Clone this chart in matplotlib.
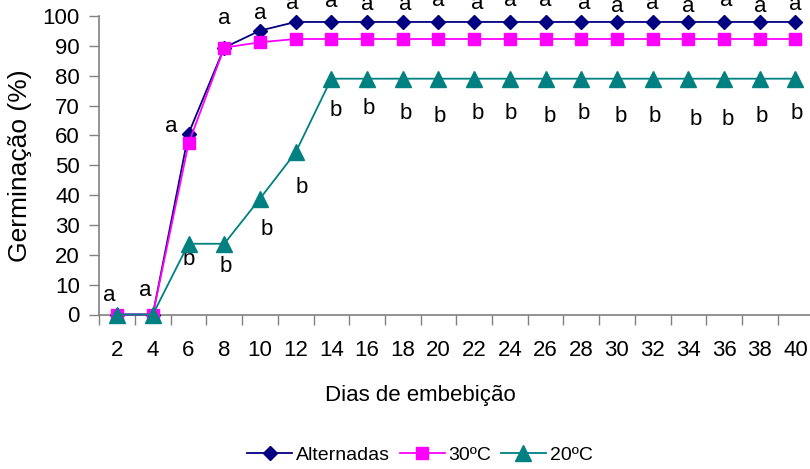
import matplotlib.pyplot as plt
import numpy as np

plt.rcParams["font.family"] = ["Liberation Sans", "DejaVu Sans"]

days = [2, 4, 6, 8, 10, 12, 14, 16, 18, 20, 22, 24, 26, 28, 30, 32, 34, 36, 38, 40]

alternadas = [0, 0, 60.6, 89.4, 95.1, 98, 98, 98, 98, 98,
              98, 98, 98, 98, 98, 98, 98, 98, 98, 98]
t30 = [0, 0, 57.3, 89.4, 91.2, 92.3, 92.3, 92.3, 92.3, 92.3,
       92.3, 92.3, 92.3, 92.3, 92.3, 92.3, 92.3, 92.3, 92.3, 92.3]
t20 = [0, 0, 23.7, 23.7, 38.8, 54.3, 79, 79, 79, 79,
       79, 79, 79, 79, 79, 79, 79, 79, 79, 79]

# significance letters (a = upper group, b = 20ºC)
letters_a = ["a"] * 20
letters_b = ["", ""] + ["b"] * 18

# where the letters sit (data units), as placed by hand in the original
a_label_y = [6.5, 8, 63, 99.2, 100.8, 104.3, 104.7, 103.7, 103.7, 105.2,
             104.2, 105.2, 105.2, 104.2, 103.1, 104.2, 103.1, 105.2, 103.1, 103.7]
a_label_dx = [-0.22, -0.2, -0.48, 0, 0, -0.1, 0, 0, 0.08, 0,
              0.1, 0, 0, 0.08, 0, 0, 0, 0.05, 0, 0]
b_label_y = [0, 0, 18.3, 16.2, 28.6, 42.5, 68.5, 69, 67.4, 66.3,
             67.4, 67.4, 66.3, 67.4, 66.3, 66.3, 65.4, 65.4, 66.3, 67.4]
b_label_dx = [0, 0, 0, 0.05, 0.18, 0.17, 0.11, 0.05, 0.08, 0.03,
              0.1, 0.03, 0.11, 0.08, 0.11, 0.05, 0.2, 0.1, 0.05, 0.03]

fig = plt.figure(figsize=(8.1, 4.69), dpi=100)
ax = fig.add_axes([99.3 / 810, 1 - 314.5 / 469, 714 / 810, (314.5 - 16) / 469])

x = np.arange(len(days))

ax.plot(x, alternadas, color="#000080", marker="D", markersize=7.5, lw=1.3,
        label="Alternadas", clip_on=False, zorder=3)
ax.plot(x, t30, color="#FF00FF", marker="s", markersize=8, lw=1.3,
        label="30ºC", clip_on=False, zorder=3)
ax.plot(x, t20, color="#008080", marker="^", markersize=11.5, lw=1.3,
        label="20ºC", clip_on=False, zorder=4)

for i in range(len(days)):
    ax.text(x[i] + a_label_dx[i], a_label_y[i], letters_a[i], ha="center", va="center",
            fontsize=16, clip_on=False)
    if letters_b[i]:
        ax.text(x[i] + b_label_dx[i], b_label_y[i], letters_b[i], ha="center", va="center",
                fontsize=16, clip_on=False)

ax.set_xlim(-0.5, len(days) - 0.5)
ax.set_ylim(0, 100)
ax.set_yticks(np.arange(0, 101, 10))
ax.set_xticks(x)
ax.set_xticklabels([str(d) for d in days])
ax.set_xticks(np.arange(-0.5, len(days), 1), minor=True)
ax.tick_params(axis="x", which="major", length=0, pad=18, labelsize=16)
ax.tick_params(axis="x", which="minor", length=7, width=1, color="#808080")
ax.tick_params(axis="y", length=7, width=1, color="#808080", pad=7, labelsize=16)

for side in ["top", "right"]:
    ax.spines[side].set_visible(False)
for side in ["left", "bottom"]:
    ax.spines[side].set_color("#808080")
    ax.spines[side].set_linewidth(1.2)

ax.set_xlabel("Dias de embebição", fontsize=16, labelpad=14)
ax.xaxis.set_label_coords((420 - 99.3) / 714, -(395 - 314.5) / 298.5)
ax.xaxis.label.set_verticalalignment("center")
ax.set_ylabel("Germinação (%)", fontsize=19)
ax.yaxis.set_label_coords(-(99.3 - 20) / 714, 0.5)
ax.yaxis.label.set_verticalalignment("center")

fig.legend(loc="center", bbox_to_anchor=(420 / 810, 1 - 455 / 469), ncol=3,
           frameon=False, fontsize=14, handlelength=2.3, handletextpad=0.2,
           columnspacing=0.5)

fig.savefig("out.png", dpi=100)
